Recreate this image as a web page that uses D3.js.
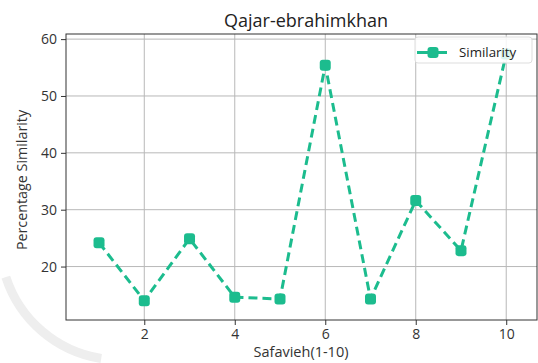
<!DOCTYPE html>
<html>
<head>
<meta charset="utf-8">
<script src="https://cdn.jsdelivr.net/npm/d3@7"></script>
<style>
  body { margin: 0; background: #fff; }
  svg { font-family: "Open Sans", sans-serif; }
</style>
</head>
<body>
<svg></svg>
<script>
const width = 538;
const height = 363;

// data
const title = "Qajar-ebrahimkhan";
const xLabel = "Safavieh(1-10)";
const yLabel = "Percentage Similarity";
const seriesName = "Similarity";
const xs = [1, 2, 3, 4, 5, 6, 7, 8, 9, 10];
const similarity = [24.2, 14.0, 24.9, 14.6, 14.3, 55.4, 14.3, 31.6, 22.8, 57.4];
const xTicks = [2, 4, 6, 8, 10];
const yTicks = [20, 30, 40, 50, 60];

const margin = { left: 66, right: 1, top: 34, bottom: 43 };
const color = "#1cbc8e";

let svg = d3.select("svg").attr("width", width).attr("height", height);

// faint watermark in the corner
let wm = svg.append("g").attr("fill", "none").attr("stroke", "#eeeeee").attr("stroke-width", 9);
wm.append("path").attr("d", d3.arc()({ innerRadius: 135, outerRadius: 135, startAngle: -Math.PI * 0.95, endAngle: -Math.PI * 0.6 }))
    .attr("transform", "translate(140,390)");
wm.append("path").attr("d", d3.arc()({ innerRadius: 120, outerRadius: 120, startAngle: Math.PI * 1.05, endAngle: Math.PI * 1.4 }))
    .attr("transform", "translate(120,240)");

let x = d3.scaleLinear()
    .domain([0.27, 10.68])
    .range([margin.left, width - margin.right]);
let y = d3.scaleLinear()
    .domain([10.6, 60.9])
    .range([height - margin.bottom, margin.top]);

// grid
let grid = svg.append("g").attr("stroke", "#b8b8b8").attr("stroke-width", 1);
grid.selectAll(".gx").data(xTicks).join("line")
    .attr("x1", d => x(d)).attr("x2", d => x(d))
    .attr("y1", y.range()[0]).attr("y2", y.range()[1]);
grid.selectAll(".gy").data(yTicks).join("line")
    .attr("x1", x.range()[0]).attr("x2", x.range()[1])
    .attr("y1", d => y(d)).attr("y2", d => y(d));

// axes
let xAxis = svg.append("g")
    .attr("transform", `translate(0,${height - margin.bottom})`)
    .call(d3.axisBottom(x).tickValues(xTicks).tickSize(5).tickPadding(4));
let yAxis = svg.append("g")
    .attr("transform", `translate(${margin.left},0)`)
    .call(d3.axisLeft(y).tickValues(yTicks).tickSize(5).tickPadding(4));
[xAxis, yAxis].forEach(a => {
    a.select(".domain").remove();
    a.selectAll("text").attr("font-size", 14).attr("fill", "#333")
        .attr("font-family", "Open Sans, sans-serif");
    a.selectAll("line").attr("stroke", "#333");
});

// frame
svg.append("rect")
    .attr("x", x.range()[0]).attr("y", y.range()[1])
    .attr("width", x.range()[1] - x.range()[0])
    .attr("height", y.range()[0] - y.range()[1])
    .attr("fill", "none").attr("stroke", "#333").attr("stroke-width", 1);

// line
let line = d3.line()
    .x((d, i) => x(xs[i]))
    .y(d => y(d));
svg.append("path")
    .attr("d", line(similarity))
    .attr("fill", "none")
    .attr("stroke", color)
    .attr("stroke-width", 3)
    .attr("stroke-dasharray", "9,5");

// markers
svg.selectAll(".pt").data(similarity).join("rect")
    .attr("x", (d, i) => x(xs[i]) - 5.5)
    .attr("y", d => y(d) - 5.5)
    .attr("width", 11).attr("height", 11)
    .attr("rx", 3)
    .attr("fill", color);

// title & labels
svg.append("text")
    .attr("x", 306).attr("y", 27)
    .attr("text-anchor", "middle").attr("font-size", 18).attr("fill", "#222")
    .text(title);
svg.append("text")
    .attr("x", 301).attr("y", 357)
    .attr("text-anchor", "middle").attr("font-size", 14.5).attr("fill", "#333")
    .text(xLabel);
svg.append("text")
    .attr("transform", `translate(27,180) rotate(-90)`)
    .attr("text-anchor", "middle").attr("font-size", 14.3).attr("fill", "#333")
    .text(yLabel);

// legend
let legend = svg.append("g").attr("transform", "translate(415,37)");
legend.append("rect")
    .attr("width", 117).attr("height", 26).attr("rx", 3)
    .attr("fill", "#fff").attr("fill-opacity", 0.85)
    .attr("stroke", "#ddd");
legend.append("line")
    .attr("x1", 2).attr("x2", 32).attr("y1", 15.5).attr("y2", 15.5)
    .attr("stroke", color).attr("stroke-width", 3);
legend.append("rect")
    .attr("x", 12.5).attr("y", 10).attr("width", 11).attr("height", 11).attr("rx", 3)
    .attr("fill", color);
legend.append("text")
    .attr("x", 44).attr("y", 20).attr("font-size", 13.3).attr("fill", "#222")
    .text(seriesName);
</script>
</body>
</html>
